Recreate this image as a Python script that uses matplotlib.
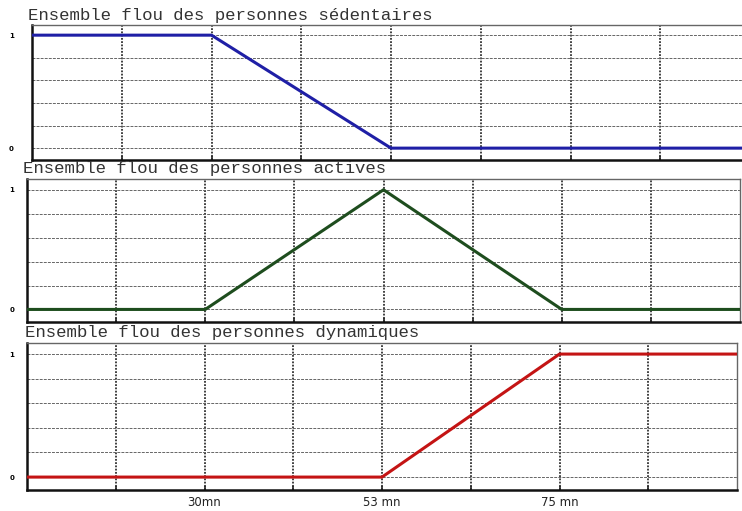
import matplotlib
matplotlib.use("Agg")
import matplotlib.pyplot as plt

# abscissa: grid positions (the plot is drawn on grid units, not minutes)
x_pts = [0, 2, 4, 6, 8]
tick_pos = [1, 2, 3, 4, 5, 6, 7]
tick_lbl = ["", "30mn", "", "53 mn", "", "75 mn", ""]

# membership degrees of the three fuzzy sets
sedentaires = [1, 1, 0, 0, 0]
actives = [0, 0, 1, 0, 0]
dynamiques = [0, 0, 0, 1, 1]

titles = ["Ensemble flou des personnes sédentaires",
          "Ensemble flou des personnes actives",
          "Ensemble flou des personnes dynamiques"]
colors = ["#1f1fa6", "#1e4d1e", "#c41414"]
series = [sedentaires, actives, dynamiques]

W, H = 742, 511
fig = plt.figure(figsize=(W / 100, H / 100), dpi=100)

# axes boxes in pixels: left, right, top, bottom
boxes = [(32, 750, 25, 160), (27, 740, 179, 322), (27, 737, 343, 490)]
title_pos = [(28, 15), (23, 169), (25, 332)]
ypads = [13, 9, 9]

for i, (l, r, t, b) in enumerate(boxes):
    ax = fig.add_axes([l / W, 1 - b / H, (r - l) / W, (b - t) / H])
    ax.plot(x_pts, series[i], color=colors[i], lw=2.2, solid_capstyle="butt", zorder=3)
    ax.set_xlim(0, 8)
    ax.set_ylim(-0.105, 1.09)

    ax.set_yticks([0, 0.2, 0.4, 0.6, 0.8, 1.0])
    ax.set_yticklabels(["0", "", "", "", "", "1"])
    ax.tick_params(axis="y", length=0, pad=ypads[i], labelsize=5)
    for lab in ax.get_yticklabels():
        lab.set_fontweight("bold")

    ax.set_xticks(tick_pos)
    ax.tick_params(axis="x", direction="in", length=3, width=1.2, color="#222")
    if i == 2:
        ax.set_xticklabels(tick_lbl, fontsize=8.5, family="DejaVu Sans", color="#222222")
        ax.tick_params(axis="x", pad=4.5)
    else:
        ax.set_xticklabels([])

    ax.grid(axis="y", color="#666666", lw=0.7, ls=(0, (3, 1.2)), zorder=1)
    ax.grid(axis="x", color="#333333", lw=1.3, ls=(0, (1, 0.8)), zorder=1)

    for side in ("left", "bottom"):
        ax.spines[side].set_linewidth(1.8)
        ax.spines[side].set_color("#111111")
    for side in ("top", "right"):
        ax.spines[side].set_linewidth(1.0)
        ax.spines[side].set_color("#666666")

    tx, ty = title_pos[i]
    fig.text(tx / W, 1 - ty / H, titles[i], family="Liberation Mono",
             fontsize=12.5, va="center", ha="left", color="#333333")

fig.savefig("out.png", dpi=100, facecolor="white")
